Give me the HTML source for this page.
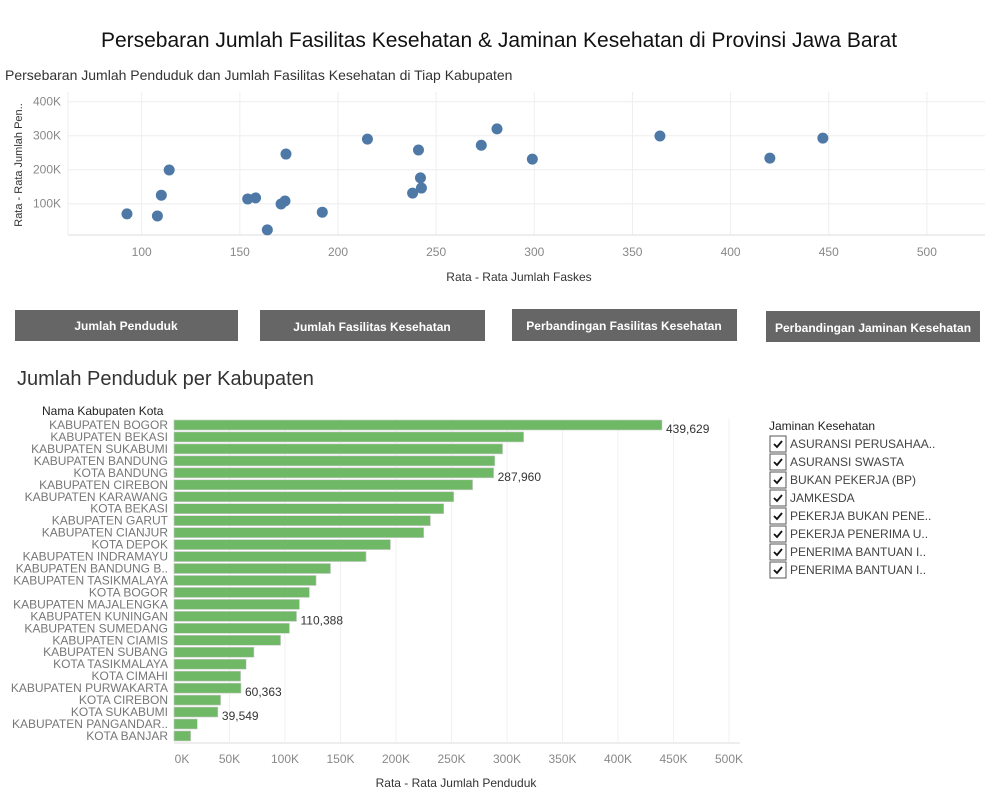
<!DOCTYPE html>
<html><head><meta charset="utf-8"><style>
body{margin:0;background:#fff;font-family:"Liberation Sans",sans-serif;}
svg text{font-family:"Liberation Sans",sans-serif;}
</style></head><body>
<svg id="s" width="999" height="799" xmlns="http://www.w3.org/2000/svg">
<text x="499" y="47" text-anchor="middle" font-size="21" fill="#111">Persebaran Jumlah Fasilitas Kesehatan &amp; Jaminan Kesehatan di Provinsi Jawa Barat</text>
<text x="5" y="80" font-size="14" fill="#333">Persebaran Jumlah Penduduk dan Jumlah Fasilitas Kesehatan di Tiap Kabupaten</text>
<g id="scatter"></g>
<text x="519" y="281" text-anchor="middle" font-size="12" fill="#333">Rata - Rata Jumlah Faskes</text>
<text transform="translate(22,165) rotate(-90)" text-anchor="middle" font-size="11" fill="#333">Rata - Rata Jumlah Pen..</text>
<g>
<rect x="15" y="310" width="223" height="31" fill="#666"/>
<text x="126" y="330" text-anchor="middle" font-size="12" font-weight="bold" fill="#fff">Jumlah Penduduk</text>
<rect x="260" y="310" width="225" height="31" fill="#666"/>
<text x="372" y="331" text-anchor="middle" font-size="12" font-weight="bold" fill="#fff">Jumlah Fasilitas Kesehatan</text>
<rect x="512" y="309" width="225" height="32" fill="#666"/>
<text x="624" y="330" text-anchor="middle" font-size="12" font-weight="bold" fill="#fff">Perbandingan Fasilitas Kesehatan</text>
<rect x="766" y="311" width="214" height="31" fill="#666"/>
<text x="873" y="332" text-anchor="middle" font-size="12" font-weight="bold" fill="#fff">Perbandingan Jaminan Kesehatan</text>
</g>
<text x="17" y="385" font-size="20" fill="#333">Jumlah Penduduk per Kabupaten</text>
<text x="42" y="415" font-size="12" fill="#222">Nama Kabupaten Kota</text>
<g id="bars"></g>
<text x="456" y="787" text-anchor="middle" font-size="12" fill="#333">Rata - Rata Jumlah Penduduk</text>
<text x="769" y="430" font-size="12" fill="#222">Jaminan Kesehatan</text>
<g id="legend"></g>
</svg>
<script>
const faskes=[92.5,108,110,114,154,158,164,171,173,173.5,192,215,238,241,242,242.5,273,281,299,364,420,447];
const penduduk=[70,64,125,199,114,117,23,99,108,246,75,290,131,258,176,146,272,320,231,299,234,293];
const xTicks=[100,150,200,250,300,350,400,450,500];
const yTicks=[100,200,300,400];
const kab=["KABUPATEN BOGOR","KABUPATEN BEKASI","KABUPATEN SUKABUMI","KABUPATEN BANDUNG","KOTA BANDUNG","KABUPATEN CIREBON","KABUPATEN KARAWANG","KOTA BEKASI","KABUPATEN GARUT","KABUPATEN CIANJUR","KOTA DEPOK","KABUPATEN INDRAMAYU","KABUPATEN BANDUNG B..","KABUPATEN TASIKMALAYA","KOTA BOGOR","KABUPATEN MAJALENGKA","KABUPATEN KUNINGAN","KABUPATEN SUMEDANG","KABUPATEN CIAMIS","KABUPATEN SUBANG","KOTA TASIKMALAYA","KOTA CIMAHI","KABUPATEN PURWAKARTA","KOTA CIREBON","KOTA SUKABUMI","KABUPATEN PANGANDAR..","KOTA BANJAR"];
const popVals=[439629,315000,296000,289000,287960,269000,252000,243000,231000,225000,195000,173000,141000,128000,122000,113000,110388,104000,96000,72000,65000,60000,60363,42000,39549,21000,15000];
const labeled=[0,4,16,22,24];
const barTicks=[0,50,100,150,200,250,300,350,400,450,500];
const legendItems=["ASURANSI PERUSAHAA..","ASURANSI SWASTA","BUKAN PEKERJA (BP)","JAMKESDA","PEKERJA BUKAN PENE..","PEKERJA PENERIMA U..","PENERIMA BANTUAN I..","PENERIMA BANTUAN I.."];
const NS="http://www.w3.org/2000/svg";
function mk(p,t,a,txt){const e=document.createElementNS(NS,t);for(const k in a)e.setAttribute(k,a[k]);if(txt!=null)e.textContent=txt;p.appendChild(e);return e;}
const sx=v=>141.7+(v-100)*1.963, sy=v=>237.7-v*0.34;
const sc=document.getElementById('scatter');
mk(sc,'rect',{x:68,y:92,width:917,height:143,fill:'none'});
xTicks.forEach(t=>{const l=mk(sc,'line',{x1:sx(t),x2:sx(t),y1:92,y2:235,stroke:'#eee'});


const tx=mk(sc,'text',{x:sx(t),y:256,'text-anchor':'middle','font-size':12,fill:'#888'},String(t));

});
yTicks.forEach(t=>{const l=mk(sc,'line',{x1:68,x2:985,y1:sy(t),y2:sy(t),stroke:'#eee'});


const tx=mk(sc,'text',{x:61,y:sy(t)+4,'text-anchor':'end','font-size':12,fill:'#888'},t+'K');

});
mk(sc,'line',{x1:68,x2:985,y1:235,y2:235,stroke:'#ddd'});
mk(sc,'line',{x1:68,x2:68,y1:92,y2:235,stroke:'#eee'});
faskes.forEach((f,i)=>{const c=mk(sc,'circle',{cx:sx(f),cy:sy(penduduk[i]),r:5.5,fill:'#4e79a7'});

});
const bx=v=>174+v*1.11/1000, by=i=>425+i*11.96;
const bg=document.getElementById('bars');
barTicks.forEach(t=>{const x=174+t*1.11;
const l=mk(bg,'line',{x1:x,x2:x,y1:419,y2:742,stroke:'#f0f0f0'});


const tx=mk(bg,'text',{x:x+(t===0?8:0),y:763,'text-anchor':'middle','font-size':12,fill:'#888'},t+'K');

});
mk(bg,'line',{x1:174,x2:740,y1:743,y2:743,stroke:'#ddd'});
kab.forEach((k,i)=>{const y=by(i);
const t=mk(bg,'text',{x:168,y:y+4,'text-anchor':'end','font-size':12,fill:'#777'},k);


const r=mk(bg,'rect',{x:174,y:y-5,width:bx(popVals[i])-174,height:10,fill:'#6fb966',stroke:'#ccc','stroke-width':0.6});


if(labeled.includes(i)){const v=mk(bg,'text',{x:bx(popVals[i])+4,y:y+8,'font-size':12,fill:'#333'},popVals[i].toLocaleString('en-US'));

}
});
const lg=document.getElementById('legend');
legendItems.forEach((s,i)=>{const y=436+i*18;
const b=mk(lg,'rect',{x:770,y:y,width:16,height:16,fill:'#fff',stroke:'#555'});


mk(lg,'path',{d:`M${774} ${y+8} l3 3 l5 -6`,stroke:'#111','stroke-width':1.8,fill:'none'});
const t=mk(lg,'text',{x:790,y:y+12,'font-size':12,fill:'#444'},s);

});
</script>
</body></html>
